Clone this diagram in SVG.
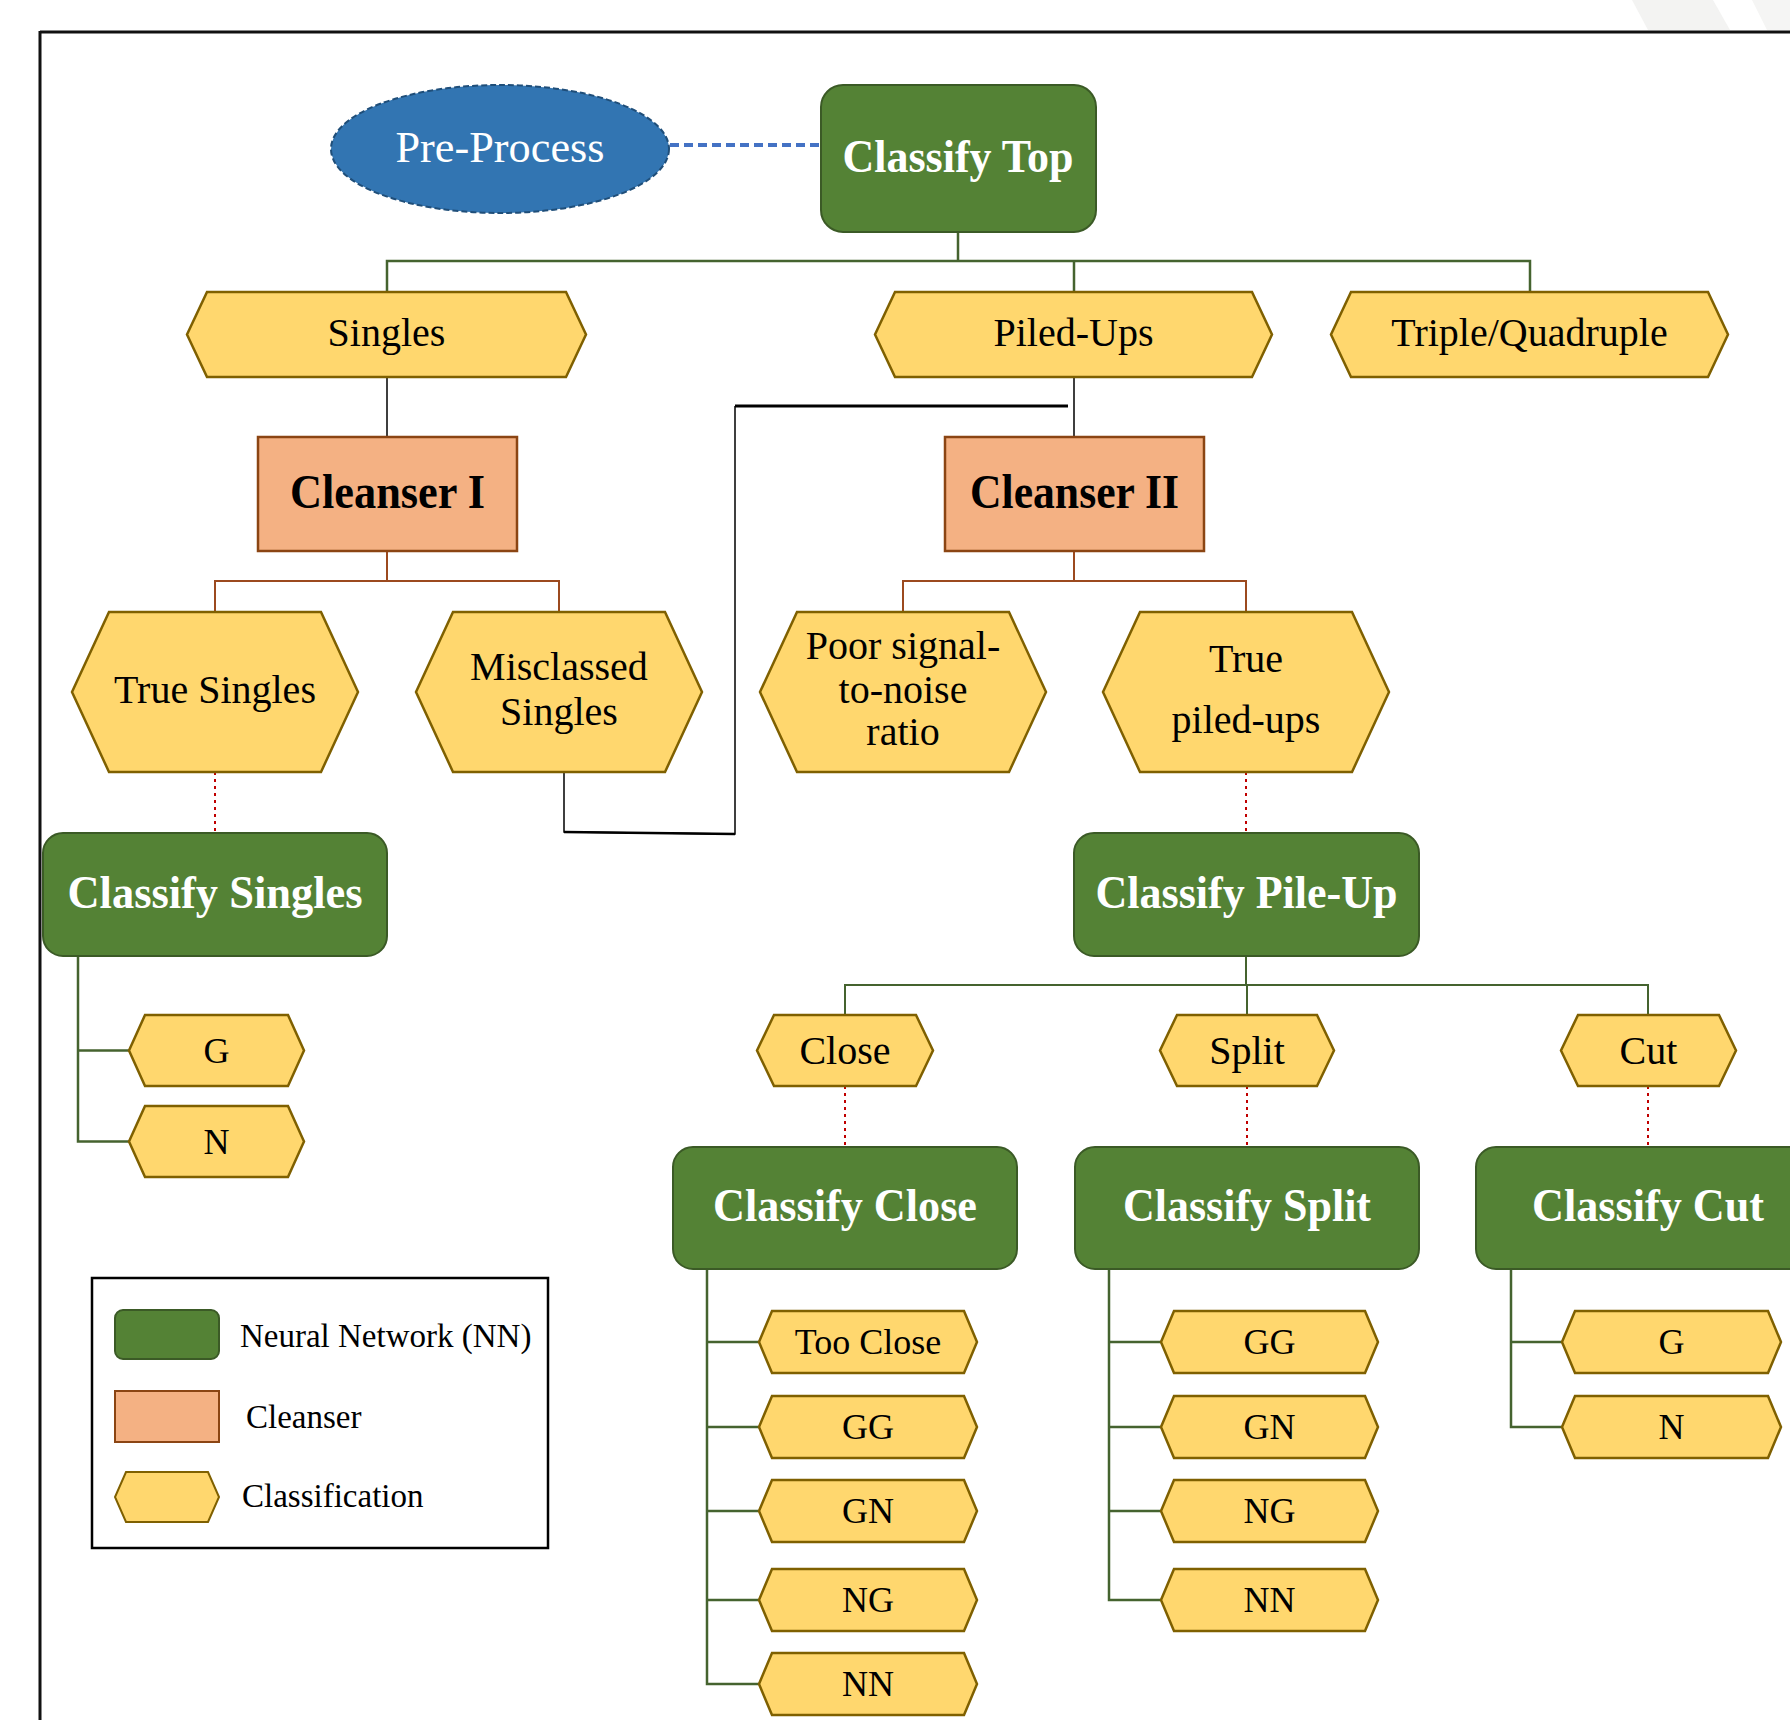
<svg xmlns="http://www.w3.org/2000/svg" width="1790" height="1720" viewBox="0 0 1790 1720">
<style>
.nn{fill:#548235;stroke:#3B5A26;stroke-width:2}
.cl{fill:#F4B183;stroke:#8B4513;stroke-width:2.5}
.hx{fill:#FFD76E;stroke:#7F6000;stroke-width:2.5;stroke-linejoin:miter}
.t{font-family:"Liberation Serif","Times New Roman",serif;text-anchor:middle;fill:#000}
.tw{font-family:"Liberation Serif","Times New Roman",serif;text-anchor:middle;fill:#fff;font-weight:bold;font-size:46px}
.tb{font-weight:bold;font-size:48px}
.r1{font-size:40px}
.s{font-size:36px}
.lg{font-family:"Liberation Serif","Times New Roman",serif;fill:#000;font-size:33px}
.g{fill:none;stroke:#45632F;stroke-width:2}
.b{fill:none;stroke:#9C4A1F;stroke-width:2}
.k{fill:none;stroke:#000;stroke-width:1.5}
.rd{fill:none;stroke:#C00000;stroke-width:2;stroke-dasharray:3 4}
</style>

<!-- background shapes -->
<polygon points="1632,0 1713,0 1730,30 1648,30" fill="#F3F3F2"/>
<polygon points="1752,0 1790,0 1790,30 1767,30" fill="#F5F5F4"/>
<line x1="40" y1="32" x2="1790" y2="32" stroke="#111" stroke-width="3"/>
<line x1="40" y1="31" x2="40" y2="1720" stroke="#111" stroke-width="3"/>

<g id="connectors">
  <line x1="670" y1="145" x2="821" y2="145" stroke="#4472C4" stroke-width="4" stroke-dasharray="9 5"/>
  <path class="g" d="M958,232 V261 M387,292 V261 H1530 V292 M1074,261 V292" style="stroke-width:2.5"/>
  <path class="k" d="M387,377 V437 M1074,377 V437"/>
  <path class="k" d="M564,772 V832 L735,834 V406"/>
  <line x1="735" y1="406" x2="1068" y2="406" stroke="#000" stroke-width="3"/>
  <line x1="564" y1="832" x2="735" y2="834" stroke="#000" stroke-width="2.5"/>
  <path class="b" d="M387,551 V581 M215,612 V581 H559 V612 M1074,551 V581 M903,612 V581 H1246 V612"/>
  <path class="rd" d="M215,772 V832 M1246,772 V832 M845,1086 V1146 M1247,1086 V1146 M1648,1086 V1146"/>
  <path class="g" d="M1246,956 V985 M845,1015 V985 H1648 V1015 M1247,985 V1015"/>
  <path class="g" d="M78,956 V1141.5 H129 M78,1050.5 H129" style="stroke-width:2.5"/>
  <path class="g" d="M707,1269 V1684 H759 M707,1342 H759 M707,1427 H759 M707,1511 H759 M707,1600 H759" style="stroke-width:2.5"/>
  <path class="g" d="M1109,1269 V1600 H1161 M1109,1342 H1161 M1109,1427 H1161 M1109,1511 H1161" style="stroke-width:2.5"/>
  <path class="g" d="M1511,1269 V1427 H1562 M1511,1342 H1562" style="stroke-width:2.5"/>
</g>

<g id="pre-process">
  <ellipse cx="500" cy="149" rx="169" ry="64" fill="#3275B2" stroke="#1F4E79" stroke-width="2" stroke-dasharray="6 3"/>
  <text x="500" y="162" font-family="Liberation Serif,serif" font-size="45" fill="#fff" text-anchor="middle" textLength="209" lengthAdjust="spacingAndGlyphs">Pre-Process</text>
</g>
<g id="classify-top">
  <rect class="nn" x="821" y="85" width="275" height="147" rx="22"/>
  <text class="tw" x="958" y="172" textLength="231" lengthAdjust="spacingAndGlyphs">Classify Top</text>
</g>

<g id="singles">
  <polygon class="hx" points="207,292 566,292 586,334.5 566,377 207,377 187,334.5"/>
  <text class="t r1" x="386.5" y="346">Singles</text>
</g>
<g id="piled-ups">
  <polygon class="hx" points="895,292 1252,292 1272,334.5 1252,377 895,377 875,334.5"/>
  <text class="t r1" x="1073.5" y="346">Piled-Ups</text>
</g>
<g id="triple-quadruple">
  <polygon class="hx" points="1351,292 1708,292 1728,334.5 1708,377 1351,377 1331,334.5"/>
  <text class="t r1" x="1529.5" y="346">Triple/Quadruple</text>
</g>

<g id="cleanser-1">
  <rect class="cl" x="258" y="437" width="259" height="114"/>
  <text class="t tb" x="387.5" y="508" textLength="195" lengthAdjust="spacingAndGlyphs">Cleanser I</text>
</g>
<g id="cleanser-2">
  <rect class="cl" x="945" y="437" width="259" height="114"/>
  <text class="t tb" x="1074.5" y="508" textLength="209" lengthAdjust="spacingAndGlyphs">Cleanser II</text>
</g>

<g id="true-singles">
  <polygon class="hx" points="109,612 321,612 358,692 321,772 109,772 72,692"/>
  <text class="t r1" x="215" y="703">True Singles</text>
</g>
<g id="misclassed-singles">
  <polygon class="hx" points="453,612 665,612 702,692 665,772 453,772 416,692"/>
  <text class="t r1" x="559" y="680">Misclassed</text>
  <text class="t r1" x="559" y="725">Singles</text>
</g>
<g id="poor-snr">
  <polygon class="hx" points="797,612 1009,612 1046,692 1009,772 797,772 760,692"/>
  <text class="t r1" x="903" y="659">Poor signal-</text>
  <text class="t r1" x="903" y="703">to-noise</text>
  <text class="t r1" x="903" y="745">ratio</text>
</g>
<g id="true-piled-ups">
  <polygon class="hx" points="1140,612 1352,612 1389,692 1352,772 1140,772 1103,692"/>
  <text class="t r1" x="1246" y="672">True</text>
  <text class="t r1" x="1246" y="733">piled-ups</text>
</g>

<g id="classify-singles">
  <rect class="nn" x="43" y="833" width="344" height="123" rx="20"/>
  <text class="tw" x="215" y="908" textLength="295" lengthAdjust="spacingAndGlyphs">Classify Singles</text>
</g>
<g id="classify-pile-up">
  <rect class="nn" x="1074" y="833" width="345" height="123" rx="20"/>
  <text class="tw" x="1246.5" y="908" textLength="302" lengthAdjust="spacingAndGlyphs">Classify Pile-Up</text>
</g>

<g id="singles-g">
  <polygon class="hx" points="145,1015 288,1015 304,1050.5 288,1086 145,1086 129,1050.5"/>
  <text class="t s" x="216.5" y="1063">G</text>
</g>
<g id="singles-n">
  <polygon class="hx" points="145,1106 288,1106 304,1141.5 288,1177 145,1177 129,1141.5"/>
  <text class="t s" x="216.5" y="1154">N</text>
</g>

<g id="close">
  <polygon class="hx" points="774,1015 916,1015 933,1050.5 916,1086 774,1086 757,1050.5"/>
  <text class="t r1" x="845" y="1064">Close</text>
</g>
<g id="split">
  <polygon class="hx" points="1177,1015 1317,1015 1334,1050.5 1317,1086 1177,1086 1160,1050.5"/>
  <text class="t r1" x="1247" y="1064">Split</text>
</g>
<g id="cut">
  <polygon class="hx" points="1578,1015 1719,1015 1736,1050.5 1719,1086 1578,1086 1561,1050.5"/>
  <text class="t r1" x="1648.5" y="1064">Cut</text>
</g>

<g id="classify-close">
  <rect class="nn" x="673" y="1147" width="344" height="122" rx="20"/>
  <text class="tw" x="845" y="1221" textLength="264" lengthAdjust="spacingAndGlyphs">Classify Close</text>
</g>
<g id="classify-split">
  <rect class="nn" x="1075" y="1147" width="344" height="122" rx="20"/>
  <text class="tw" x="1247" y="1221" textLength="248" lengthAdjust="spacingAndGlyphs">Classify Split</text>
</g>
<g id="classify-cut">
  <rect class="nn" x="1476" y="1147" width="344" height="122" rx="20"/>
  <text class="tw" x="1648" y="1221" textLength="232" lengthAdjust="spacingAndGlyphs">Classify Cut</text>
</g>

<g id="close-too-close">
  <polygon class="hx" points="772,1311 964,1311 977,1342 964,1373 772,1373 759,1342"/>
  <text class="t s" x="868" y="1354">Too Close</text>
</g>
<g id="close-gg">
  <polygon class="hx" points="772,1396 964,1396 977,1427 964,1458 772,1458 759,1427"/>
  <text class="t s" x="868" y="1439">GG</text>
</g>
<g id="close-gn">
  <polygon class="hx" points="772,1480 964,1480 977,1511 964,1542 772,1542 759,1511"/>
  <text class="t s" x="868" y="1523">GN</text>
</g>
<g id="close-ng">
  <polygon class="hx" points="772,1569 964,1569 977,1600 964,1631 772,1631 759,1600"/>
  <text class="t s" x="868" y="1612">NG</text>
</g>
<g id="close-nn">
  <polygon class="hx" points="772,1653 964,1653 977,1684 964,1715 772,1715 759,1684"/>
  <text class="t s" x="868" y="1696">NN</text>
</g>

<g id="split-gg">
  <polygon class="hx" points="1174,1311 1365,1311 1378,1342 1365,1373 1174,1373 1161,1342"/>
  <text class="t s" x="1269.5" y="1354">GG</text>
</g>
<g id="split-gn">
  <polygon class="hx" points="1174,1396 1365,1396 1378,1427 1365,1458 1174,1458 1161,1427"/>
  <text class="t s" x="1269.5" y="1439">GN</text>
</g>
<g id="split-ng">
  <polygon class="hx" points="1174,1480 1365,1480 1378,1511 1365,1542 1174,1542 1161,1511"/>
  <text class="t s" x="1269.5" y="1523">NG</text>
</g>
<g id="split-nn">
  <polygon class="hx" points="1174,1569 1365,1569 1378,1600 1365,1631 1174,1631 1161,1600"/>
  <text class="t s" x="1269.5" y="1612">NN</text>
</g>

<g id="cut-g">
  <polygon class="hx" points="1575,1311 1768,1311 1781,1342 1768,1373 1575,1373 1562,1342"/>
  <text class="t s" x="1671.5" y="1354">G</text>
</g>
<g id="cut-n">
  <polygon class="hx" points="1575,1396 1768,1396 1781,1427 1768,1458 1575,1458 1562,1427"/>
  <text class="t s" x="1671.5" y="1439">N</text>
</g>

<g id="legend">
  <rect x="92" y="1278" width="456" height="270" fill="#fff" stroke="#000" stroke-width="2.5"/>
  <rect class="nn" x="115" y="1310" width="104" height="49" rx="8"/>
  <text class="lg" x="240" y="1347">Neural Network (NN)</text>
  <rect class="cl" x="115" y="1391" width="104" height="51" style="stroke-width:2"/>
  <text class="lg" x="246" y="1428">Cleanser</text>
  <polygon class="hx" points="126,1472 208,1472 219,1497 208,1522 126,1522 115,1497" style="stroke-width:2"/>
  <text class="lg" x="242" y="1507">Classification</text>
</g>
</svg>
